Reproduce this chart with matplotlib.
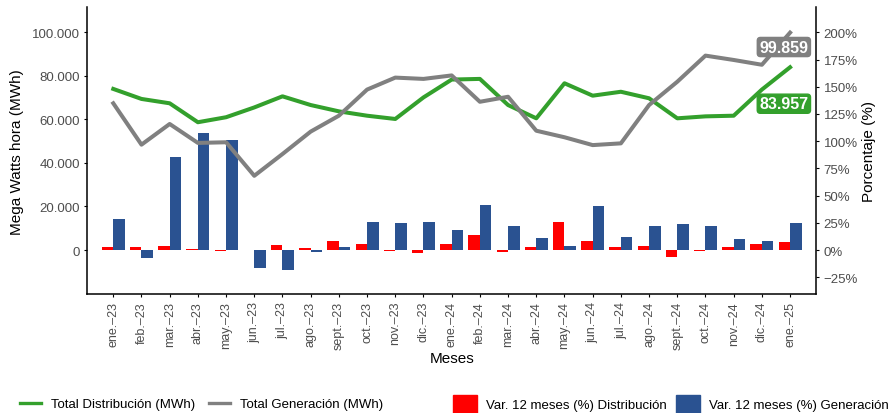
import numpy as np
import matplotlib
matplotlib.use("Agg")
import matplotlib.pyplot as plt
from matplotlib.patches import Patch
from matplotlib.ticker import FuncFormatter

plt.rcParams['font.family'] = ['Liberation Sans', 'DejaVu Sans']

months = ['ene.–23', 'feb.–23', 'mar.–23', 'abr.–23', 'may.–23', 'jun.–23', 'jul.–23',
          'ago.–23', 'sept.–23', 'oct.–23', 'nov.–23', 'dic.–23', 'ene.–24', 'feb.–24',
          'mar.–24', 'abr.–24', 'may.–24', 'jun.–24', 'jul.–24', 'ago.–24', 'sept.–24',
          'oct.–24', 'nov.–24', 'dic.–24', 'ene.–25']

# MWh totals
dist = [74000, 69400, 67400, 58700, 61000, 65500, 70600, 66600, 63700, 61700, 60200, 70100,
        78300, 78600, 66600, 60500, 76600, 70900, 72700, 69700, 60500, 61400, 61700, 73700, 83957]
gen = [67400, 48400, 57900, 49200, 49500, 34100, 44100, 54400, 61700, 73700, 79200, 78600,
       80200, 68100, 70400, 54800, 51800, 48200, 49000, 66600, 77300, 89300, 87300, 85100, 99859]

# 12-month variation (%)
var_dist = [2.8, 2.8, 3.7, 0.9, -0.5, -0.3, 4.6, 1.8, 8.3, 5.5, -0.5, -2.8, 5.5, 13.8,
            -1.8, 2.8, 25.7, 8.3, 2.8, 3.7, -6.4, -0.6, 2.8, 5.5, 7.4]
var_gen = [28.5, -7.3, 85.5, 107.5, 101.1, -16.5, -18.1, -1.8, 2.8, 25.7, 24.8, 25.7, 18.4, 41.3,
           22.0, 11.0, 3.7, 40.4, 11.9, 22.0, 23.9, 22.0, 10.1, 8.3, 24.8]

green = '#33A02C'
grey = '#808080'
red = '#FF0000'
blue = '#2A5291'
tick_col = '#4D4D4D'

x = np.arange(len(months))
w = 0.41

fig = plt.figure(figsize=(8.93, 4.14), dpi=100)
ax = fig.add_axes([0.0978, 0.2874, 0.816, 0.6926])
ax2 = ax.twinx()
ax.set_zorder(ax2.get_zorder() + 1)
ax.patch.set_visible(False)

ax2.bar(x - w / 2, var_dist, width=w, color=red, label='Var. 12 meses (%) Distribución')
ax2.bar(x + w / 2, var_gen, width=w, color=blue, label='Var. 12 meses (%) Generación')

l1, = ax.plot(x, dist, color=green, lw=2.9, label='Total Distribución (MWh)')
l2, = ax.plot(x, gen, color=grey, lw=2.9, label='Total Generación (MWh)')

# end labels
ax.text(23.78, 93250, f"{gen[-1]:,}".replace(',', '.'), color='white', fontsize=11.5,
        fontweight='bold', ha='center', va='center',
        bbox=dict(boxstyle='round,pad=0.13,rounding_size=0.2', fc=grey, ec=grey))
ax.text(23.78, 67200, f"{dist[-1]:,}".replace(',', '.'), color='white', fontsize=11.5,
        fontweight='bold', ha='center', va='center',
        bbox=dict(boxstyle='round,pad=0.13,rounding_size=0.2', fc=green, ec=green))

ymin, ymax = -20200, 111500
ax.set_ylim(ymin, ymax)
ax2.set_ylim(ymin / 500, ymax / 500)
ax.set_xlim(-0.92, 24.92)

ax.set_yticks(range(0, 100001, 20000))
ax.yaxis.set_major_formatter(FuncFormatter(lambda v, p: f"{int(v):,}".replace(',', '.')))
ax2.set_yticks(range(-25, 201, 25))
ax2.yaxis.set_major_formatter(FuncFormatter(lambda v, p: f"{int(v)}%".replace('-', '\u2212')))

ax.set_xticks(x)
ax.set_xticklabels(months, rotation=90, ha='center', va='top')

for a in (ax, ax2):
    a.spines['top'].set_visible(False)
    for s in a.spines.values():
        s.set_linewidth(1.1)
        s.set_color('black')
ax.spines['right'].set_visible(False)
ax2.spines['left'].set_visible(False)
ax2.spines['bottom'].set_visible(False)

ax.tick_params(axis='y', labelsize=9.5, labelcolor=tick_col, length=2.5, width=0.8, pad=3)
ax.tick_params(axis='x', labelsize=9, labelcolor=tick_col, length=2.5, width=0.8, pad=2.5)
ax2.tick_params(axis='y', labelsize=9.5, labelcolor=tick_col, length=2.5, width=0.8, pad=3)

ax.set_ylabel('Mega Watts hora (MWh)', fontsize=11)
ax.yaxis.set_label_coords(-0.0865, 0.5)
ax2.set_ylabel('Porcentaje (%)', fontsize=11)
ax2.yaxis.set_label_coords(1.063, 0.5)
ax.set_xlabel('Meses', fontsize=11)
ax.xaxis.set_label_coords(0.5, -0.2)

leg1 = fig.legend(handles=[l1, l2], loc='center left', bbox_to_anchor=(20 / 893, 1 - 405 / 414),
                  ncol=2, frameon=False, fontsize=9.5, borderpad=0, borderaxespad=0,
                  handlelength=1.6, handletextpad=0.75, columnspacing=1.05)
for ln in leg1.get_lines():
    ln.set_linewidth(2.4)

handles2 = [Patch(color=red, label='Var. 12 meses (%) Distribución'),
            Patch(color=blue, label='Var. 12 meses (%) Generación')]
fig.legend(handles=handles2, loc='center left', bbox_to_anchor=(453 / 893, 1 - 405 / 414),
           ncol=2, frameon=False, fontsize=9.5, borderpad=0, borderaxespad=0,
           handlelength=1.82, handleheight=1.82, handletextpad=0.68, columnspacing=0.7)

fig.savefig('out.png', dpi=100)
